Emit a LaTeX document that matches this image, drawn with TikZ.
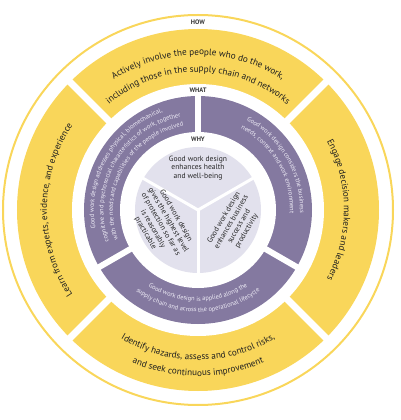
\documentclass[tikz,border=0pt]{standalone}
\usepackage{fontspec}
\setmainfont{PT Sans}
\usepackage{xcolor}
\usepackage{tikz}
\usetikzlibrary{decorations.text}

\definecolor{howyellow}{RGB}{249,214,90}
\definecolor{whatpurple}{RGB}{132,121,160}
\definecolor{whylilac}{RGB}{226,225,237}
\definecolor{ringwhite}{RGB}{240,238,248}
\definecolor{labelgray}{RGB}{55,55,55}

\begin{document}
\begin{tikzpicture}[
    x=1pt, y=1pt,
    yellowgap/.style={draw=white, line width=7pt},
    purplegap/.style={draw=white, line width=6pt},
    whyline/.style={draw=white, line width=3pt},
    caption/.style={font=\fontsize{6.5}{7}\selectfont\bfseries, text=labelgray, inner sep=0pt},
    whytext/.style={font=\fontsize{7.6}{8.8}\selectfont, text=black!85, align=center, inner sep=0pt},
    howline/.style={decorate, decoration={text along path, text align=center, text color=black!88, text={|\fontsize{9.2}{10}\selectfont|#1}}},
    whatline/.style={decorate, decoration={text along path, text align=center, text color=ringwhite, text={|\fontsize{6.4}{7}\selectfont|#1}}}
  ]
    \useasboundingbox (-198,-210) rectangle (203,210);

    % rings
    \draw[howyellow, line width=2pt] (0,0) circle[radius=195pt];
    \fill[howyellow] (0,0) circle[radius=181pt];
    \fill[white] (0,0) circle[radius=126pt];
    \fill[whatpurple] (0,0) circle[radius=114pt];
    \fill[white] (0,0) circle[radius=78pt];
    \fill[whylilac] (0,0) circle[radius=63pt];

    % separations
    \foreach \a in {45,135,225,315}
      \draw[yellowgap] (\a:120pt) -- (\a:186pt);
    \foreach \a in {90,210,330}
      \draw[purplegap] (\a:72pt) -- (\a:118pt);
    \foreach \a in {30,150,270}
      \draw[whyline] (0,0) -- (\a:64pt);

    \node[caption] (how) at (90:188pt) {HOW};
    \node[caption] (what) at (90:120pt) {WHAT};
    \node[caption] (why) at (90:70.5pt) {WHY};

    % how ring
    \path[howline={Actively involve the people who do the work,}] (135:155pt) arc[start angle=135, end angle=45, radius=155pt];
    \path[howline={including those in the supply chain and networks}] (135:138pt) arc[start angle=135, end angle=45, radius=138pt];
    \path[howline={Engage decision makers and leaders}] (45:146pt) arc[start angle=45, end angle=-45, radius=146pt];
    \path[howline={Identify hazards, assess and control risks,}] (225:150pt) arc[start angle=225, end angle=315, radius=150pt];
    \path[howline={and seek continuous improvement}] (225:166pt) arc[start angle=225, end angle=315, radius=166pt];
    \path[howline={Learn from experts, evidence, and experience}] (225:151pt) arc[start angle=225, end angle=135, radius=151pt];

    % what ring
    \path[whatline={Good work design addresses physical, biomechanical,}] (210:104pt) arc[start angle=210, end angle=90, radius=104pt];
    \path[whatline={cognitive and psychosocial characteristics of work, together}] (210:94.5pt) arc[start angle=210, end angle=90, radius=94.5pt];
    \path[whatline={with the needs and capabilities of the people involved}] (210:85pt) arc[start angle=210, end angle=90, radius=85pt];
    \path[whatline={Good work design considers the business}] (90:102pt) arc[start angle=90, end angle=-30, radius=102pt];
    \path[whatline={needs, context and work environment}] (90:92pt) arc[start angle=90, end angle=-30, radius=92pt];
    \path[whatline={Good work design is applied along the}] (210:91pt) arc[start angle=210, end angle=330, radius=91pt];
    \path[whatline={supply chain and across the operational lifecycle}] (210:102pt) arc[start angle=210, end angle=330, radius=102pt];

    % why disc
    \node[whytext] (health) at (90:42pt) {Good work design\\enhances health\\and well-being};
    \node[whytext, rotate=-60] (protection) at (201:40pt) {Good work design\\gives the highest level\\of protection so far as\\is reasonably\\practicable};
    \node[whytext, rotate=60] (business) at (339:40pt) {Good work design\\enhances business\\success and\\productivity};

  \end{tikzpicture}
\end{document}
